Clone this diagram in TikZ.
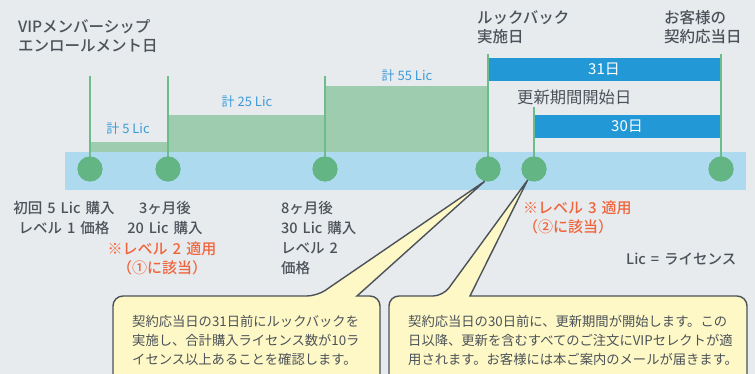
\documentclass[tikz,border=0pt]{standalone}
\usepackage{fontspec}
\setmainfont{Noto Sans CJK JP}
\newfontfamily\medfont{Noto Sans CJK JP Medium}
\newcommand\widegap{\spaceskip=5pt plus 1pt\relax}
\usetikzlibrary{positioning}
\definecolor{bggray}{HTML}{E8EBEE}
\definecolor{bandblue}{HTML}{ADDAEF}
\definecolor{dotgreen}{HTML}{63B584}
\definecolor{bargreen}{HTML}{9DCDAE}
\definecolor{linegreen}{HTML}{6CBD8C}
\definecolor{dayblue}{HTML}{2299D6}
\definecolor{sumblue}{HTML}{3B9BD8}
\definecolor{notered}{HTML}{F0643C}
\definecolor{textgray}{HTML}{4B5259}
\definecolor{noteyellow}{HTML}{FEF8C6}

\begin{document}
\begin{tikzpicture}[x=1pt,y=-1pt,
		dot/.style={circle,fill=dotgreen,minimum size=25pt,inner sep=0pt},
		tickline/.style={draw=linegreen,line width=2pt},
		daybar/.style={fill=dayblue,draw=none},
		daytext/.style={text=white,font=\fontsize{15}{16}\selectfont},
		sumtext/.style={text=sumblue,font=\fontsize{13}{16}\selectfont},
		title/.style={anchor=west,inner sep=0pt,align=left,text=textgray,font=\fontsize{15.5}{19}\medfont},
		label/.style={inner sep=0pt,text=textgray,font=\fontsize{14.5}{20}\medfont\widegap},
		redlabel/.style={inner sep=0pt,text=notered,font=\fontsize{15}{19}\medfont\widegap},
		callout/.style={fill=noteyellow,draw=textgray,line width=1.4pt,line join=miter},
		notetext/.style={anchor=west,inner sep=0pt,align=left,text=textgray,font=\fontsize{13.3}{19}\selectfont}]
	\useasboundingbox (0,0) rectangle (755,374);
	\clip (0,0) rectangle (755,374);
	\fill[bggray] (0,0) rectangle (755,374);
	\fill[bandblue] (65,152) rectangle (746,190);
	\fill[bargreen] (90,142) rectangle (168,152);
	\fill[bargreen] (168,115) rectangle (325,152);
	\fill[bargreen] (325,86) rectangle (488,152);
	\fill[daybar] (488,58) rectangle (721,81);
	\fill[daybar] (534,115) rectangle (721,138);
	\node[dot] (d1) at (90,169) {};
	\node[dot] (d2) at (168,169) {};
	\node[dot] (d3) at (325,169) {};
	\node[dot] (d4) at (488,169) {};
	\node[dot] (d5) at (534,169) {};
	\node[dot] (d6) at (721,169) {};
	\coordinate (t1) at (90,76);
	\coordinate (t2) at (168,76);
	\coordinate (t3) at (325,76);
	\coordinate (t4) at (488,54);
	\coordinate (t5) at (534,107);
	\coordinate (t6) at (721,54);
	\foreach \i in {1,...,6}
		\draw[tickline] (d\i.center) -- (t\i);
	\foreach \i in {1,...,6}
		\node[dot] at (d\i) {};
	\node[sumtext] (sum1) at (128,129) {計 5 Lic};
	\node[sumtext] (sum2) at (247,102) {計 25 Lic};
	\node[sumtext] (sum3) at (407,76) {計 55 Lic};
	\node[daytext] (days31) at (604,69.5) {31日};
	\node[daytext] (days30) at (627,126.5) {30日};
	\node[title] (enroll) at (18,36) {VIPメンバーシップ\\エンロールメント日};
	\node[title] (lookback) at (477,27) {ルックバック\\実施日};
	\node[title] (contract) at (664,27) {お客様の\\契約応当日};
	\node[title,font=\fontsize{16.3}{19}\selectfont] (renew) at (517,97) {更新期間開始日};
	\node[label,align=center] (first) at (64,218) {初回 5 Lic 購入\\レベル 1 価格};
	\node[label,align=center] (month3) at (165,218) {3ヶ月後\\20 Lic 購入};
	\node[redlabel,align=center] (lv2) at (162,258) {※レベル 2 適用\\（①に該当）};
	\node[label,align=left,anchor=west] (month8) at (281,218) {8ヶ月後\\30 Lic 購入};
	\node[label,align=left,anchor=west] (price2) at (281,258.5) {レベル 2\\価格};
	\node[redlabel,align=left,anchor=west] (lv3) at (523,217) {※レベル 3 適用\\（②に該当）};
	\node[label,anchor=west] (lic) at (626,259) {Lic = ライセンス};
	\draw[callout] (113,400) [rounded corners=10pt] -- (113,296) -- (317,296) [sharp corners] -- (d4.255) -- (357,296) [rounded corners=10pt] -- (380,296) -- (380,400);
	\draw[callout] (389,400) [rounded corners=10pt] -- (389,296) -- (443,296) [sharp corners] -- (d5.240) -- (470,296) [rounded corners=10pt] -- (747,296) -- (747,400);
	\node[notetext] (note1) at (132,340) {契約応当日の31日前にルックバックを\\実施し、合計購入ライセンス数が10ラ\\イセンス以上あることを確認します。};
	\node[notetext] (note2) at (408,340) {契約応当日の30日前に、更新期間が開始します。この\\日以降、更新を含むすべてのご注文にVIPセレクトが適\\用されます。お客様には本ご案内のメールが届きます。};
\end{tikzpicture}
\end{document}
